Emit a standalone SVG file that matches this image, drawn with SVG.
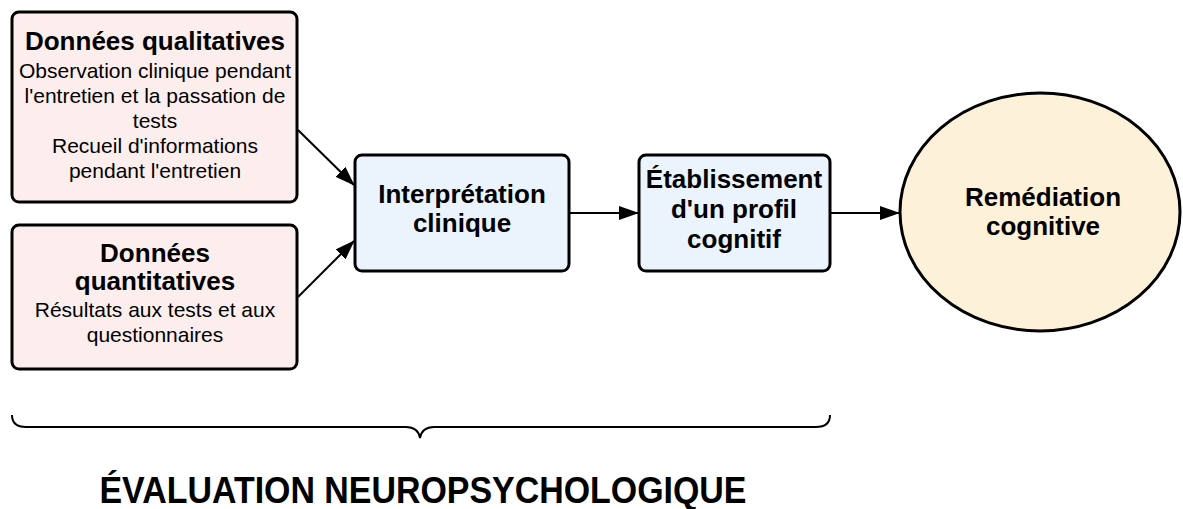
<svg xmlns="http://www.w3.org/2000/svg" width="1183" height="509" viewBox="0 0 1183 509">
<style>
  .box{stroke:#000;stroke-width:3}
  .pink{fill:#fdeeee}
  .blue{fill:#ebf3fd}
  .ell{fill:#fdf1d9;stroke:#000;stroke-width:3}
  .b{font-family:"Liberation Sans",Arial,sans-serif;font-weight:bold;font-size:26px;fill:#000;text-anchor:middle}
  .n{font-family:"Liberation Sans",Arial,sans-serif;font-size:21px;fill:#000;text-anchor:middle}
  .conn{stroke:#000;stroke-width:2;fill:none}
  .title{font-family:"Liberation Sans",Arial,sans-serif;font-weight:bold;font-size:36px;fill:#000;text-anchor:middle}
</style>
<defs>
  <marker id="arr" markerWidth="20" markerHeight="14" refX="19" refY="7" orient="auto" markerUnits="userSpaceOnUse">
    <path d="M0,0 L20,7 L0,14 Z" fill="#000"/>
  </marker>
</defs>
<rect width="1183" height="509" fill="#fff"/>
<g id="connectors">
  <line class="conn" x1="298" y1="130" x2="354" y2="185" marker-end="url(#arr)"/>
  <line class="conn" x1="298" y1="297" x2="354" y2="241" marker-end="url(#arr)"/>
  <line class="conn" x1="570" y1="213" x2="638" y2="213" marker-end="url(#arr)"/>
  <line class="conn" x1="831" y1="213" x2="899" y2="213" marker-end="url(#arr)"/>
</g>
<g id="qualitatives">
  <rect class="box pink" x="12" y="12" width="285" height="190" rx="7"/>
  <text class="b" x="155" y="50">Données qualitatives</text>
  <text class="n" x="155" y="78">Observation clinique pendant</text>
  <text class="n" x="155" y="103">l'entretien et la passation de</text>
  <text class="n" x="155" y="128">tests</text>
  <text class="n" x="155" y="153">Recueil d'informations</text>
  <text class="n" x="155" y="178">pendant l'entretien</text>
</g>
<g id="quantitatives">
  <rect class="box pink" x="12" y="225" width="285" height="144" rx="7"/>
  <text class="b" x="155" y="262">Données</text>
  <text class="b" x="155" y="290">quantitatives</text>
  <text class="n" x="155" y="317">Résultats aux tests et aux</text>
  <text class="n" x="155" y="342">questionnaires</text>
</g>
<g id="interpretation">
  <rect class="box blue" x="355" y="155" width="214" height="116" rx="7"/>
  <text class="b" x="462" y="203">Interprétation</text>
  <text class="b" x="462" y="232">clinique</text>
</g>
<g id="etablissement">
  <rect class="box blue" x="639" y="155" width="191" height="116" rx="7"/>
  <text class="b" x="734" y="188">Établissement</text>
  <text class="b" x="734" y="218">d'un profil</text>
  <text class="b" x="734" y="248">cognitif</text>
</g>
<g id="remediation">
  <ellipse class="ell" cx="1040" cy="212" rx="140" ry="119"/>
  <text class="b" x="1043" y="206">Remédiation</text>
  <text class="b" x="1043" y="235">cognitive</text>
</g>
<g id="evaluation">
  <path class="conn" stroke-width="2.5" d="M12,415 Q12,427 26,427 L406,427 Q418,427 420,438 Q422,427 434,427 L816,427 Q830,427 830,415"/>
  <text class="title" x="423" y="503" textLength="647" lengthAdjust="spacingAndGlyphs">ÉVALUATION NEUROPSYCHOLOGIQUE</text>
</g>
</svg>
